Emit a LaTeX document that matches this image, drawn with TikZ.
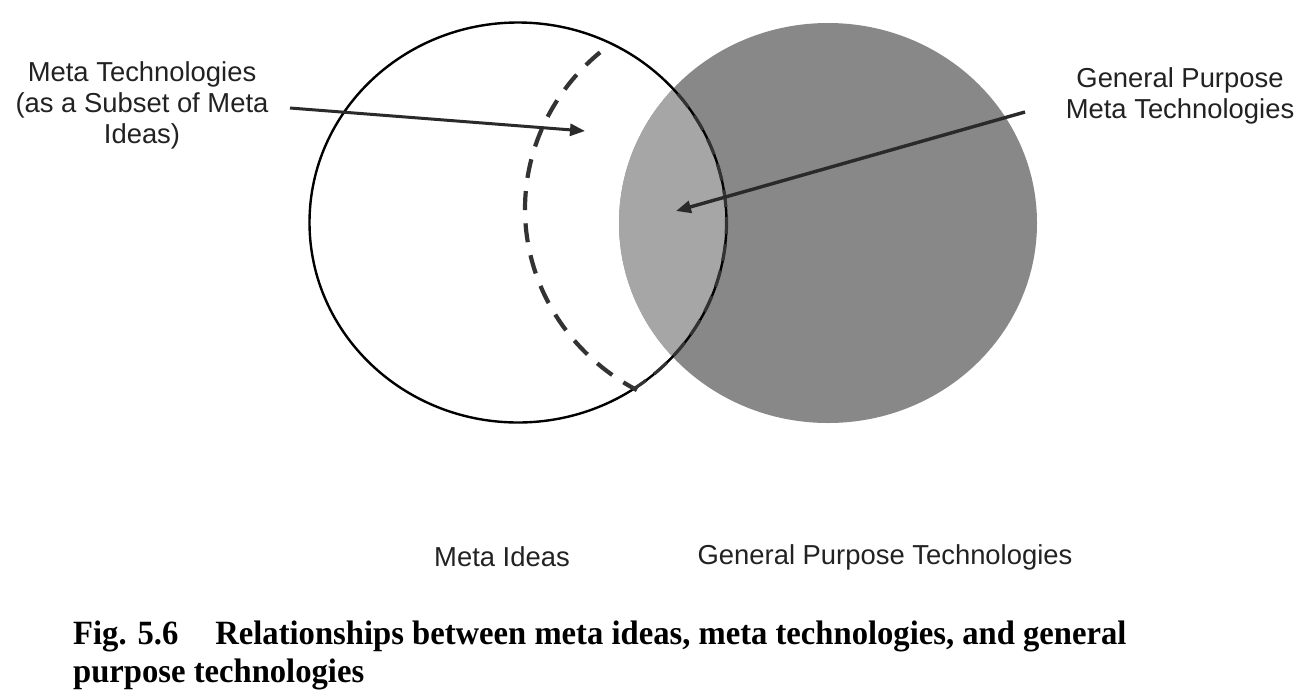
\documentclass[tikz,border=0pt]{standalone}
\usepackage{fontspec}
\setmainfont{Liberation Sans}
\newfontfamily\capfont[FakeStretch=0.96]{Liberation Serif}
\usetikzlibrary{arrows.meta}
\definecolor{darkfill}{HTML}{888888}
\definecolor{lightfill}{HTML}{A6A6A6}
\definecolor{textgray}{HTML}{222222}
\definecolor{linegray}{HTML}{2A2A2A}
\definecolor{dashgray}{HTML}{333333}
\begin{document}
\begin{tikzpicture}[x=1pt,y=-1pt,
  lbl/.style={font=\fontsize{27.4}{31}\selectfont, text=textgray, inner sep=0pt, align=center},
  capstyle/.style={font=\capfont\bfseries\fontsize{34}{38}\selectfont, text=black, inner sep=0pt, align=left},
  arr/.style={draw=linegray, line width=3pt, -{Triangle[length=15pt,width=12pt]}},
  circline/.style={draw=black, line width=2.4pt},
  dashline/.style={draw=dashgray, line width=4.2pt, dash pattern=on 19pt off 13.3pt}]
\useasboundingbox (0,0) rectangle (1315,697);
\fill[white] (0,0) rectangle (1315,697);
% General Purpose Technologies circle
\fill[darkfill] (828,223) ellipse [x radius=209, y radius=200];
% overlap with Meta Ideas
\begin{scope}
  \clip (518,222.5) ellipse [x radius=208.5, y radius=200];
  \fill[lightfill] (828,223) ellipse [x radius=209, y radius=200];
\end{scope}
% Meta Ideas circle
\draw[circline] (518,222.5) ellipse [x radius=208.5, y radius=200];
% Meta Technologies (dashed boundary)
\draw[dashline] ([shift={(229.5:214 and 206)}]739,209) arc[start angle=229.5, end angle=118.5, x radius=214, y radius=206];
\draw[draw=dashgray, line width=3.2pt, dash pattern=on 17pt off 10pt] ([shift={(-40:208.5 and 200)}]518,222.5) arc[start angle=-40, end angle=56, x radius=208.5, y radius=200];
% labels
\node[lbl] (mt) at (142,105.5) {Meta Technologies\\(as a Subset of Meta\\Ideas)};
\node[lbl] (gpmt) at (1180,96) {General Purpose\\Meta Technologies};
\node[lbl, anchor=base] (mi) at (502,566) {Meta Ideas};
\node[lbl, anchor=base] (gpt) at (885,564) {General Purpose Technologies};
% arrows
\coordinate (a1s) at (290,108);
\coordinate (a1e) at (585,131);
\coordinate (a2s) at (1025,112);
\coordinate (a2e) at (676,211);
\draw[arr] (a1s) -- (a1e);
\draw[arr, line width=3.4pt] (a2s) -- (a2e);
% caption
\node[capstyle, anchor=north west] (cap) at (73,621) {Fig. 5.6\hspace{37pt}Relationships between meta ideas, meta technologies, and general\\purpose technologies};
\end{tikzpicture}
\end{document}
